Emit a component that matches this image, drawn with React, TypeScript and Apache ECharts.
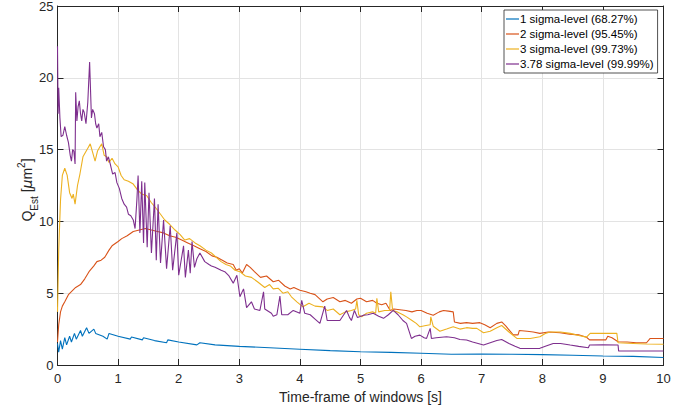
import React, { useEffect, useRef } from "react";
import * as echarts from "echarts";

const xTicks = [0, 1, 2, 3, 4, 5, 6, 7, 8, 9, 10];
const seriesNames = [
  "1 sigma-level (68.27%)",
  "2 sigma-level (95.45%)",
  "3 sigma-level (99.73%)",
  "3.78 sigma-level (99.99%)",
];
const colors = ["#0072BD", "#D95319", "#EDB120", "#7E2F8E"];

const blueT = [0, 0.02, 0.05, 0.08, 0.12, 0.15, 0.2, 0.23, 0.28, 0.31, 0.38, 0.41, 0.48, 0.52, 0.6, 0.63, 0.75, 0.82, 0.85, 1.0, 1.2, 1.22, 1.4, 1.42, 1.6, 1.8, 1.82, 2.0, 2.3, 2.35, 2.6, 3.0, 3.5, 4.0, 4.5, 5.0, 5.5, 6.0, 6.5, 7.0, 7.5, 8.0, 8.5, 9.0, 9.5, 10];
const blueV = [1.5, 0.9, 1.7, 1.1, 1.9, 1.4, 2.0, 1.6, 2.2, 1.8, 2.4, 2.0, 2.6, 2.2, 2.5, 2.2, 2.0, 1.8, 2.2, 2.0, 1.8, 1.95, 1.75, 1.9, 1.7, 1.55, 1.75, 1.6, 1.4, 1.55, 1.4, 1.3, 1.2, 1.1, 1.0, 0.92, 0.88, 0.82, 0.75, 0.76, 0.75, 0.72, 0.68, 0.63, 0.6, 0.52];

const orangeT = [0, 0.02, 0.05, 0.08, 0.12, 0.18, 0.25, 0.3, 0.38, 0.45, 0.52, 0.6, 0.65, 0.72, 0.78, 0.85, 0.9, 1.0, 1.06, 1.15, 1.25, 1.35, 1.45, 1.55, 1.65, 1.75, 1.85, 1.95, 2.05, 2.15, 2.25, 2.35, 2.45, 2.55, 2.63, 2.72, 2.8, 2.9, 2.95, 3.0, 3.05, 3.12, 3.18, 3.25, 3.35, 3.45, 3.56, 3.65, 3.75, 3.84, 3.9, 4.0, 4.1, 4.17, 4.25, 4.38, 4.45, 4.55, 4.66, 4.75, 4.85, 4.94, 5.0, 5.1, 5.2, 5.27, 5.35, 5.42, 5.49, 5.55, 5.65, 5.75, 5.85, 5.93, 6.0, 6.1, 6.2, 6.3, 6.37, 6.45, 6.53, 6.55, 6.65, 6.75, 6.85, 6.97, 7.05, 7.14, 7.25, 7.33, 7.4, 7.52, 7.6, 7.62, 7.75, 7.85, 7.96, 8.1, 8.29, 8.45, 8.6, 8.73, 8.78, 8.9, 9.05, 9.08, 9.15, 9.25, 9.4, 9.55, 9.72, 9.78, 10];
const orangeV = [1.6, 2.8, 3.7, 4.1, 4.4, 4.9, 5.2, 5.4, 5.6, 6.0, 6.5, 6.9, 7.2, 7.3, 7.5, 8.0, 8.3, 8.6, 8.8, 9.0, 9.3, 9.4, 9.5, 9.4, 9.3, 9.2, 9.0, 8.9, 8.7, 8.5, 8.3, 8.1, 7.9, 7.6, 7.5, 7.3, 7.1, 7.0, 6.6, 6.7, 6.4, 7.0, 6.8, 6.5, 6.1, 6.2, 5.8, 5.9, 5.5, 5.3, 5.4, 5.2, 5.1, 5.0, 4.9, 4.4, 4.6, 4.7, 4.4, 4.5, 4.3, 4.6, 4.65, 4.4, 4.5, 4.3, 4.2, 4.3, 3.8, 3.9, 3.85, 3.8, 3.7, 3.8, 3.8, 3.6, 3.47, 3.7, 3.8, 3.75, 3.7, 3.0, 2.9, 2.95, 2.9, 2.95, 2.8, 2.6, 2.9, 3.0, 2.7, 2.1, 2.1, 2.4, 2.35, 2.3, 2.2, 2.3, 2.25, 2.15, 2.1, 1.93, 1.75, 1.75, 1.75, 2.0, 1.9, 1.62, 1.6, 1.55, 1.55, 1.85, 1.85];

const yellowT = [0, 0.02, 0.05, 0.08, 0.12, 0.16, 0.2, 0.24, 0.26, 0.29, 0.33, 0.37, 0.42, 0.46, 0.5, 0.54, 0.58, 0.62, 0.66, 0.7, 0.73, 0.77, 0.81, 0.85, 0.9, 0.95, 1.0, 1.05, 1.1, 1.17, 1.25, 1.32, 1.39, 1.47, 1.55, 1.61, 1.7, 1.77, 1.85, 1.94, 2.02, 2.1, 2.18, 2.27, 2.35, 2.45, 2.54, 2.62, 2.7, 2.78, 2.85, 2.93, 3.01, 3.1, 3.2, 3.3, 3.42, 3.5, 3.56, 3.64, 3.72, 3.8, 3.86, 3.95, 4.05, 4.15, 4.25, 4.38, 4.45, 4.55, 4.66, 4.75, 4.85, 4.92, 4.94, 4.97, 5.02, 5.1, 5.2, 5.25, 5.27, 5.3, 5.4, 5.48, 5.5, 5.53, 5.6, 5.7, 5.76, 5.85, 5.92, 5.98, 6.08, 6.15, 6.16, 6.2, 6.31, 6.42, 6.53, 6.64, 6.75, 6.85, 6.92, 7.03, 7.14, 7.25, 7.33, 7.45, 7.58, 7.7, 7.8, 7.96, 8.05, 8.13, 8.3, 8.46, 8.6, 8.73, 8.79, 8.95, 9.1, 9.23, 9.25, 9.5, 9.72, 10];
const yellowV = [3.7, 8.0, 11.5, 13.2, 13.7, 13.2, 12.0, 11.6, 11.9, 11.2, 12.5, 13.3, 14.5, 14.8, 15.1, 15.4, 14.8, 14.2, 14.9, 15.2, 15.4, 14.6, 14.5, 14.1, 14.4, 14.0, 13.8, 13.2, 12.9, 12.8, 12.6, 12.2, 11.9, 11.8, 11.3, 11.0, 10.5, 10.1, 9.8, 9.4, 9.1, 8.7, 8.8, 8.5, 8.3, 8.0, 7.8, 7.5, 7.2, 7.0, 6.9, 6.6, 6.5, 6.2, 6.1, 5.8, 5.4, 5.6, 5.3, 5.35, 5.0, 5.1, 4.75, 4.4, 4.05, 4.3, 4.1, 4.05, 3.8, 3.9, 3.5, 3.7, 3.8, 3.9, 4.5, 3.5, 3.35, 3.6, 3.7, 3.6, 4.65, 3.7, 3.8, 3.8, 5.1, 3.8, 3.7, 3.5, 3.35, 3.1, 2.9, 2.66, 2.75, 2.8, 3.35, 2.7, 2.35, 2.5, 2.66, 2.5, 2.6, 2.55, 2.55, 2.25, 2.35, 2.6, 2.75, 2.3, 1.85, 1.85, 1.85, 1.97, 2.2, 2.3, 2.3, 2.2, 2.05, 1.94, 2.2, 2.2, 2.2, 2.2, 1.55, 1.5, 1.46, 1.45];

const purpleT = [0, 0.01, 0.02, 0.04, 0.06, 0.09, 0.12, 0.15, 0.18, 0.21, 0.23, 0.25, 0.27, 0.29, 0.3, 0.32, 0.34, 0.36, 0.38, 0.4, 0.42, 0.44, 0.47, 0.5, 0.53, 0.56, 0.58, 0.61, 0.63, 0.65, 0.68, 0.7, 0.73, 0.76, 0.79, 0.81, 0.84, 0.87, 0.91, 0.95, 0.98, 1.02, 1.06, 1.1, 1.14, 1.17, 1.21, 1.25, 1.28, 1.31, 1.33, 1.36, 1.39, 1.42, 1.44, 1.48, 1.51, 1.55, 1.6, 1.63, 1.66, 1.7, 1.75, 1.8, 1.86, 1.9, 1.97, 2.0, 2.08, 2.11, 2.16, 2.19, 2.22, 2.26, 2.3, 2.35, 2.43, 2.5, 2.54, 2.6, 2.65, 2.7, 2.76, 2.83, 2.9, 2.96, 3.01, 3.07, 3.12, 3.2, 3.25, 3.34, 3.4, 3.42, 3.53, 3.56, 3.62, 3.67, 3.7, 3.8, 3.89, 4.0, 4.03, 4.08, 4.17, 4.25, 4.33, 4.41, 4.45, 4.55, 4.66, 4.77, 4.82, 4.85, 4.9, 4.95, 5.05, 5.12, 5.21, 5.3, 5.38, 5.46, 5.54, 5.62, 5.7, 5.76, 5.84, 5.9, 5.98, 6.05, 6.09, 6.15, 6.17, 6.25, 6.42, 6.55, 6.64, 6.75, 6.85, 6.97, 7.03, 7.14, 7.25, 7.33, 7.45, 7.55, 7.63, 7.8, 7.96, 8.05, 8.18, 8.3, 8.46, 8.6, 8.76, 8.78, 9.0, 9.25, 9.26, 10];
const purpleV = [22.2, 17.5, 19.3, 17.2, 15.9, 16.0, 16.6, 16.0, 15.5, 14.6, 14.2, 15.0, 14.9, 14.0, 19.0, 17.0, 18.0, 18.4, 17.5, 17.0, 17.8, 17.6, 16.8, 18.3, 21.1, 17.2, 17.8, 17.5, 16.8, 16.5, 16.8, 15.9, 16.2, 15.2, 15.0, 14.2, 14.5, 14.0, 13.3, 13.4, 12.7, 12.3, 11.6, 11.2, 11.0, 10.5, 10.4, 10.1, 9.5, 11.5, 13.2, 9.2, 12.8, 8.5, 12.7, 8.2, 12.0, 7.8, 11.6, 7.3, 11.2, 7.1, 10.1, 6.7, 9.7, 6.6, 9.2, 6.25, 8.3, 6.1, 8.0, 6.4, 8.6, 6.8, 7.4, 7.8, 7.2, 7.0, 6.9, 6.8, 6.7, 6.6, 6.5, 6.2, 5.7, 6.25, 4.75, 5.3, 4.0, 4.4, 3.9, 3.8, 5.1, 3.9, 3.6, 3.4, 3.5, 4.8, 3.5, 3.5, 3.8, 3.6, 4.5, 3.6, 3.5, 3.2, 2.9, 4.1, 3.1, 3.1, 3.1, 3.8, 3.3, 3.1, 3.8, 3.3, 3.47, 3.5, 3.6, 3.4, 3.25, 3.5, 3.8, 3.5, 3.1, 2.9, 1.85, 2.0, 2.08, 1.9, 1.85, 2.55, 1.85, 1.9, 1.97, 1.9, 1.78, 1.74, 1.6, 1.46, 1.39, 1.55, 1.7, 1.78, 1.5, 1.3, 1.16, 1.15, 1.16, 1.3, 1.5, 1.5, 1.39, 1.3, 1.2, 1.39, 1.4, 1.39, 0.97, 0.97];

const allT = [blueT, orangeT, yellowT, purpleT];
const allV = [blueV, orangeV, yellowV, purpleV];

const FONT = "'Liberation Sans', Arial, Helvetica, sans-serif";
const AX = "#262626";

export default function App() {
  const ref = useRef<HTMLDivElement>(null);
  useEffect(() => {
    if (!ref.current) return;
    const chart = echarts.init(ref.current, undefined, { renderer: "svg" });
    const axisCommon = {
      type: "value" as const,
      axisLine: { show: true, onZero: false, lineStyle: { color: AX, width: 1 } },
      axisTick: { show: true, inside: true, length: 6, lineStyle: { color: AX } },
    };
    chart.setOption({
      animation: false,
      backgroundColor: "#fff",
      textStyle: { fontFamily: FONT },
      grid: { left: 57.5, right: 30.5, top: 6, bottom: 49, containLabel: false, outerBoundsMode: "none" },
      graphic: [
        {
          type: "text",
          x: 24,
          y: 190,
          rotation: Math.PI / 2,
          style: {
            text: "{q|Q}{sub|Est}{q| [}{mu|\u03bc}{q|m}{sup|2}{q|]}",
            align: "center",
            verticalAlign: "middle",
            fill: AX,
            rich: {
              q: { fontSize: 14, lineHeight: 16, fill: AX, fontFamily: FONT, verticalAlign: "top", padding: [4, 0, 0, 0] },
              mu: { fontSize: 14, lineHeight: 16, fill: AX, fontFamily: "'DejaVu Sans', sans-serif", fontStyle: "italic", verticalAlign: "top", padding: [4, 0, 0, 0] },
              sub: { fontSize: 10, lineHeight: 11, fill: AX, fontFamily: FONT, verticalAlign: "top", padding: [13, 0, 0, 0] },
              sup: { fontSize: 10, lineHeight: 11, fill: AX, fontFamily: FONT, verticalAlign: "top", padding: [0, 0, 0, 0] },
            },
          },
        },
      ],
      legend: {
        orient: "vertical",
        left: 504,
        top: 10,
        width: 155,
        itemWidth: 13,
        itemHeight: 2,
        itemGap: 3,
        icon: "rect",
        padding: [3, 4, 3, 2],
        backgroundColor: "#fff",
        borderColor: AX,
        borderWidth: 0.8,
        borderRadius: 0,
        textStyle: { fontSize: 11.5, color: "#000", fontFamily: FONT, padding: [0, 0, 0, -4] },
        data: seriesNames.map((n, i) => ({ name: n, itemStyle: { color: colors[i], opacity: 0.6 } })),
      },
      xAxis: [
        {
          ...axisCommon,
          position: "bottom",
          min: 0,
          max: 10,
          interval: 1,
          name: "Time-frame of windows [s]",
          nameLocation: "middle",
          nameGap: 20,
          nameTextStyle: { fontSize: 14, color: AX, fontFamily: FONT },
          axisLabel: { fontSize: 13, color: AX, margin: 7, fontFamily: FONT, formatter: (v: number) => (xTicks.includes(v) ? String(v) : "") },
          splitLine: { show: true, lineStyle: { color: "#e3e3e3", width: 1 } },
        },
        {
          ...axisCommon,
          position: "top",
          min: 0,
          max: 10,
          interval: 1,
          axisLabel: { show: false },
          splitLine: { show: false },
        },
      ],
      yAxis: [
        {
          ...axisCommon,
          position: "left",
          min: 0,
          max: 25,
          interval: 5,
          axisLabel: { fontSize: 13, lineHeight: 12, color: AX, margin: 4, fontFamily: FONT },
          splitLine: { show: true, lineStyle: { color: "#e3e3e3", width: 1 } },
        },
        {
          ...axisCommon,
          position: "right",
          min: 0,
          max: 25,
          interval: 5,
          axisLabel: { show: false },
          splitLine: { show: false },
        },
      ],
      series: seriesNames.map((n, i) => ({
        name: n,
        type: "line",
        xAxisIndex: 0,
        yAxisIndex: 0,
        showSymbol: false,
        symbol: "none",
        color: colors[i],
        lineStyle: { color: colors[i], width: 1.1 },
        data: allT[i].map((t, k) => [t, allV[i][k]]),
        z: 2 + i,
      })),
    });
    return () => chart.dispose();
  }, []);
  return (
    <div
      ref={ref}
      style={{ position: "fixed", left: 0, top: 0, width: 694, height: 414, background: "#fff" }}
    />
  );
}
